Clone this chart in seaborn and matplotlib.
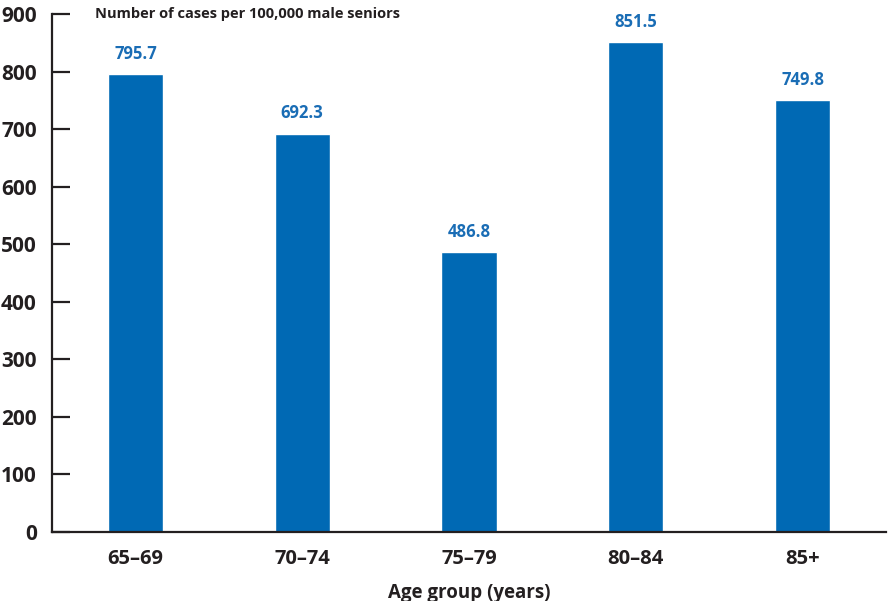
import matplotlib
matplotlib.use("Agg")
import matplotlib.pyplot as plt
import seaborn as sns
import pandas as pd
import numpy as np

age_groups = ["65–69", "70–74", "75–79", "80–84", "85+"]
cases = [795.7, 692.3, 486.8, 851.5, 749.8]
y_ticks = [0, 100, 200, 300, 400, 500, 600, 700, 800, 900]

BAR = "#0069b4"
LABEL = "#1a6db5"
INK = "#231f20"

sns.set_theme(style="white")
plt.rcParams["font.family"] = ["Open Sans", "DejaVu Sans"]

df = pd.DataFrame({"age": age_groups, "cases": cases})

fig = plt.figure(figsize=(8.88, 6.01), dpi=100)
ax = fig.add_axes([0.0586, 0.1148, 0.9391, 0.8619])

sns.barplot(data=df, x="age", y="cases", color=BAR, width=0.33,
            saturation=1, ax=ax)

ax.set_xlim(-0.5, len(age_groups) - 0.5)
ax.set_ylim(0, 900)
ax.set_yticks(y_ticks)
ax.set_yticklabels([str(v) for v in y_ticks], fontsize=15, fontweight="bold", color=INK)

# category labels at bar centres, tick marks on the boundaries between groups
ax.set_xticks(range(len(age_groups)))
ax.set_xticklabels(age_groups, fontsize=14.5, fontweight="bold", color=INK)
ax.set_xticks(np.arange(0.5, len(age_groups), 1.0), minor=True)
ax.tick_params(axis="x", which="major", length=0, pad=12)
ax.tick_params(axis="x", which="minor", direction="in", length=8.6, width=1.6, color=INK)
ax.tick_params(axis="y", which="major", direction="in", length=13, width=1.6,
               color=INK, pad=11, left=True)

for side in ["top", "right"]:
    ax.spines[side].set_visible(False)
for side in ["left", "bottom"]:
    ax.spines[side].set_color(INK)
    ax.spines[side].set_linewidth(1.6)

ax.set_ylabel("")
ax.set_xlabel("Age group (years)", fontsize=13.5, fontweight="bold", color=INK, labelpad=10)

for i, v in enumerate(cases):
    ax.annotate(f"{v:.1f}", (i, v), xytext=(0, 8), textcoords="offset points",
                ha="center", va="bottom", fontsize=12, fontweight="bold", color=LABEL)

fig.text(95 / 888, 1 - 14 / 601, "Number of cases per 100,000 male seniors",
         fontsize=10.5, fontweight="bold", color=INK, ha="left", va="center")

fig.savefig("out.png", dpi=100)
